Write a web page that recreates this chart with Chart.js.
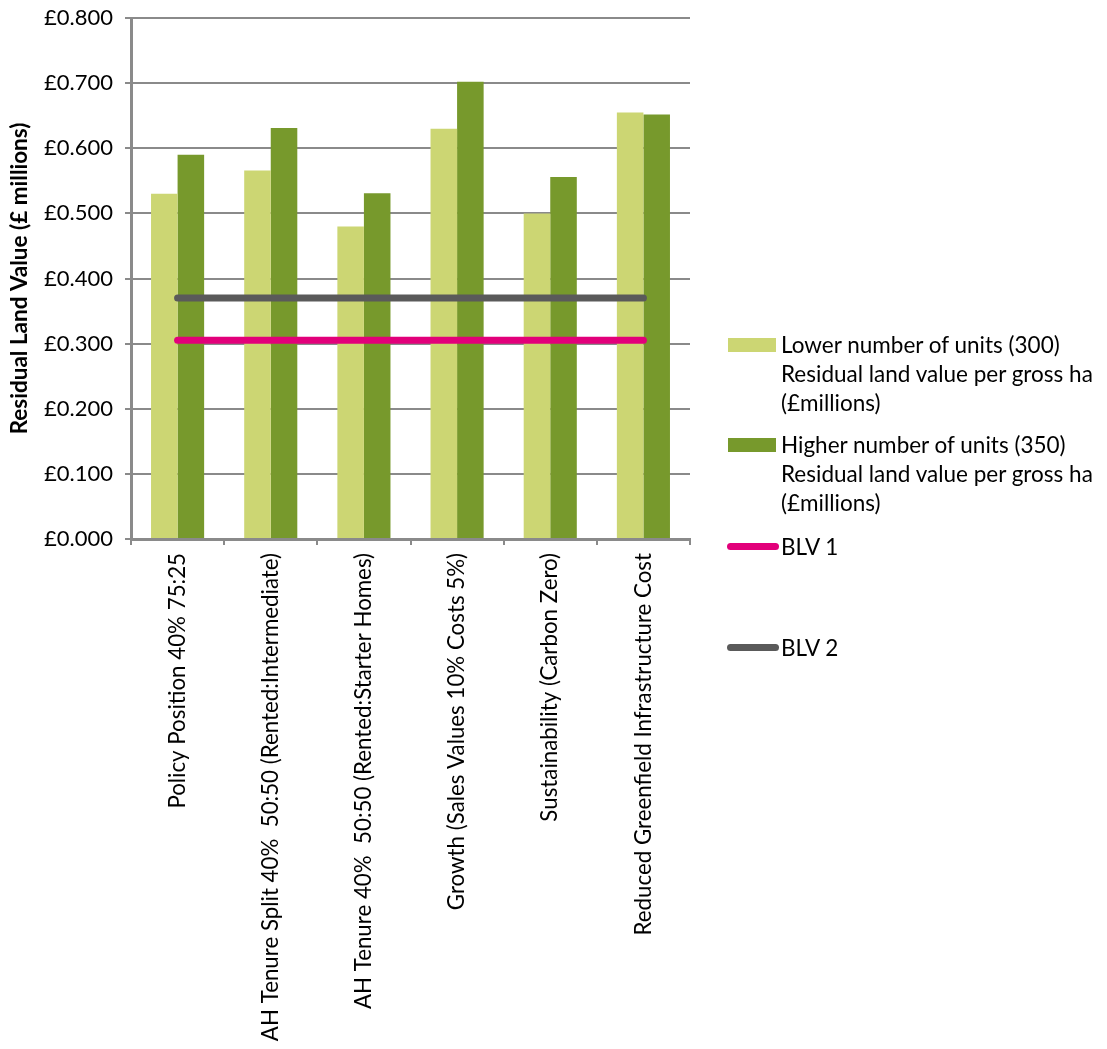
<!DOCTYPE html>
<html lang="en">
<head>
    <meta charset="UTF-8">
    <title>Residual Land Value</title>
    <script src="https://cdn.jsdelivr.net/npm/chart.js"></script>
    <style>
        body {
            margin: 0;
            background: #ffffff;
            font-family: 'Lato', sans-serif;
        }
        .wrap {
            position: relative;
            width: 1107px;
            height: 1049px;
        }
        #legend {
            position: absolute;
            left: 727px;
            top: 0;
            font-size: 22.5px;
            line-height: 29px;
            color: #000;
        }
        .item {
            position: absolute;
            left: 0;
            white-space: pre;
        }
        .item .sw {
            position: absolute;
            left: 0;
        }
        .item .txt {
            position: absolute;
            left: 54px;
            top: 0;
        }
    </style>
</head>
<body>
    <div class="wrap">
        <canvas id="rlvChart"></canvas>
        <div id="legend"></div>
    </div>

    <script>
        // Scenarios (x axis)
        const scenarios = [
            'Policy Position 40% 75:25',
            'AH Tenure Split 40%  50:50 (Rented:Intermediate)',
            'AH Tenure 40%  50:50 (Rented:Starter Homes)',
            'Growth (Sales Values 10% Costs 5%)',
            'Sustainability (Carbon Zero)',
            'Reduced Greenfield Infrastructure Cost'
        ];

        // Residual land value per gross ha (£ millions)
        const lowerUnits = [0.530, 0.566, 0.480, 0.630, 0.500, 0.655];
        const higherUnits = [0.590, 0.631, 0.531, 0.702, 0.556, 0.652];

        // Benchmark land values
        const blv1 = [0.305, 0.305, 0.305, 0.305, 0.305, 0.305];
        const blv2 = [0.370, 0.370, 0.370, 0.370, 0.370, 0.370];

        const seriesNames = [
            'Lower number of units (300)\nResidual land value per gross ha\n(£millions)',
            'Higher number of units (350)\nResidual land value per gross ha\n(£millions)',
            'BLV 1',
            'BLV 2'
        ];

        const yTicks = [0, 0.1, 0.2, 0.3, 0.4, 0.5, 0.6, 0.7, 0.8];

        const axisGrey = '#8a8a8a';

        const ctx = document.getElementById('rlvChart').getContext('2d');
        const chart = new Chart(ctx, {
            data: {
                labels: scenarios,
                datasets: [
                    {
                        type: 'bar',
                        label: seriesNames[0],
                        data: lowerUnits,
                        backgroundColor: '#ccd673',
                        order: 3
                    },
                    {
                        type: 'bar',
                        label: seriesNames[1],
                        data: higherUnits,
                        backgroundColor: '#77992c',
                        order: 3
                    },
                    {
                        type: 'line',
                        label: seriesNames[2],
                        data: blv1,
                        borderColor: '#e2007a',
                        borderWidth: 7,
                        borderCapStyle: 'round',
                        pointRadius: 0,
                        order: 1
                    },
                    {
                        type: 'line',
                        label: seriesNames[3],
                        data: blv2,
                        borderColor: '#5a5a5a',
                        borderWidth: 7,
                        borderCapStyle: 'round',
                        pointRadius: 0,
                        order: 2
                    }
                ]
            },
            options: {
                responsive: true,
                maintainAspectRatio: false,
                animation: false,
                layout: { padding: { top: 18, right: 417, bottom: 0, left: 0 } },
                datasets: {
                    bar: { categoryPercentage: 0.57, barPercentage: 1.0 }
                },
                plugins: {
                    legend: { display: false },
                    tooltip: { enabled: false }
                },
                scales: {
                    x: {
                        afterFit: (scale) => {
                            scale.height = 510;
                            scale.paddingLeft = 0;
                            scale.paddingRight = 0;
                        },
                        grid: {
                            offset: true,
                            drawOnChartArea: false,
                            drawTicks: true,
                            tickLength: 6,
                            color: axisGrey,
                            lineWidth: 2
                        },
                        border: { color: axisGrey, width: 3 },
                        ticks: {
                            maxRotation: 90,
                            minRotation: 90,
                            autoSkip: false,
                            padding: 8,
                            color: '#000',
                            font: { family: 'Lato', size: 22.3 }
                        }
                    },
                    y: {
                        min: 0,
                        max: 0.8,
                        afterFit: (scale) => {
                            scale.width = 131;
                            scale.paddingTop = 0;
                            scale.paddingBottom = 0;
                        },
                        afterBuildTicks: (scale) => {
                            scale.ticks = yTicks.map(v => ({ value: v }));
                        },
                        grid: {
                            color: axisGrey,
                            lineWidth: 2,
                            tickLength: 6
                        },
                        border: { color: axisGrey, width: 3 },
                        ticks: {
                            padding: 12,
                            color: '#000',
                            font: { family: 'Lato', size: 22 },
                            callback: (v) => '£' + Number(v).toFixed(3)
                        },
                        title: {
                            display: true,
                            text: 'Residual Land Value (£ millions)',
                            color: '#000',
                            font: { family: 'Lato', size: 22.5, weight: 'bold' },
                            padding: { top: 6, bottom: 0 }
                        }
                    }
                }
            }
        });

        // HTML legend built from the datasets (multi-line labels)
        const legendTops = [330, 430, 532, 633];
        const legendEl = document.getElementById('legend');
        chart.data.datasets.forEach((ds, i) => {
            const item = document.createElement('div');
            item.className = 'item';
            item.style.top = legendTops[i] + 'px';
            const sw = document.createElement('div');
            sw.className = 'sw';
            if (ds.type === 'bar') {
                sw.style.width = '48px';
                sw.style.height = '14px';
                sw.style.top = '8px';
                sw.style.left = '1px';
                sw.style.background = ds.backgroundColor;
            } else {
                sw.style.width = '52px';
                sw.style.height = '7px';
                sw.style.top = '11px';
                sw.style.borderRadius = '4px';
                sw.style.background = ds.borderColor;
            }
            const txt = document.createElement('div');
            txt.className = 'txt';
            txt.textContent = ds.label;
            item.appendChild(sw);
            item.appendChild(txt);
            legendEl.appendChild(item);
        });
    </script>
</body>
</html>
